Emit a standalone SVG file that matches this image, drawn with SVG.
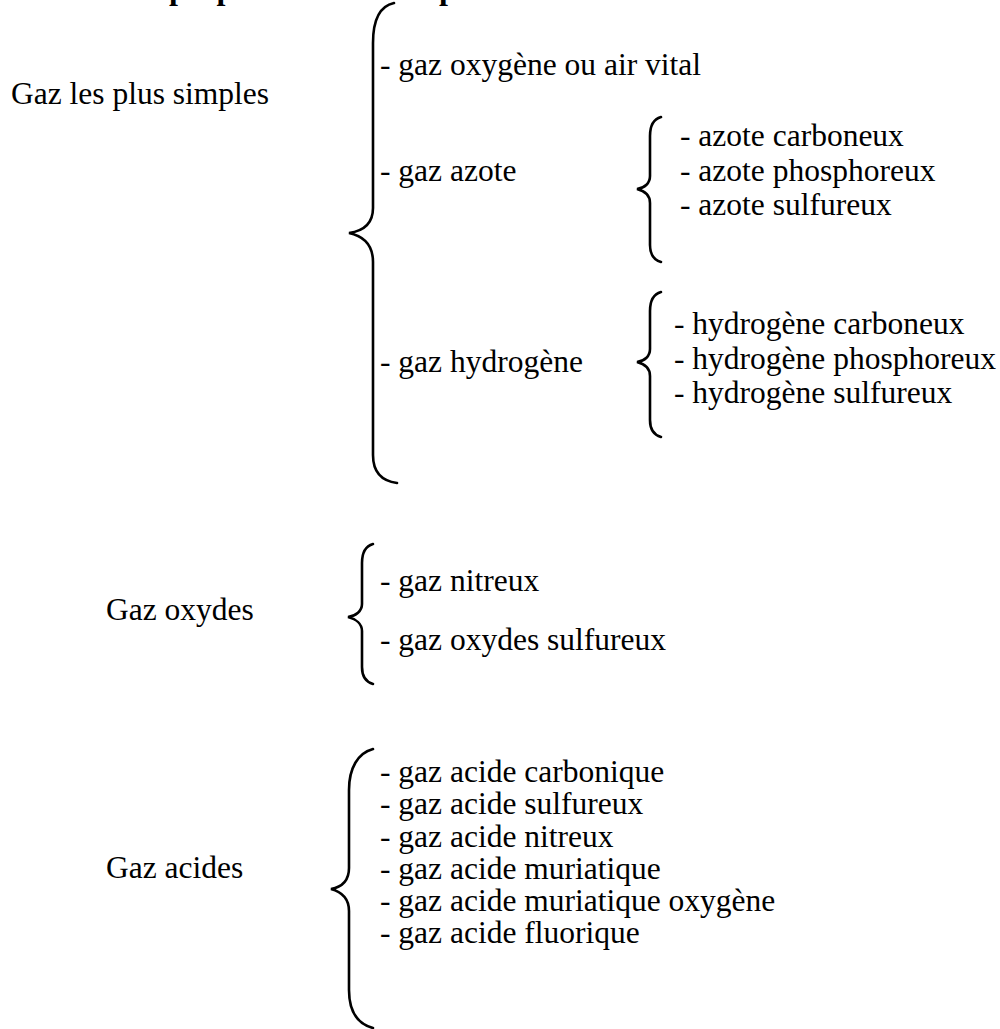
<svg xmlns="http://www.w3.org/2000/svg" width="1000" height="1029" viewBox="0 0 1000 1029">
<style>
text{font-family:"Liberation Serif","Times New Roman",serif;font-size:31.5px;fill:#000}
.t{font-weight:bold;font-size:32px}
.b{fill:none;stroke:#000;stroke-width:2.6;stroke-linecap:round}
</style>
<rect width="1000" height="1029" fill="#fff"/>
<text class="t" x="106" y="-1">Gaz proprement dits ou permanents :</text>
<g id="connectors">
<path class="b" d="M394,3 C380,6 373,20 373,43 L373,208 C373,224 363,231 349,233 C363,236 373,245 373,262 L373,455 C373,472 382,481 397,483"/>
<path class="b" d="M661,117 C654,119 650,126 650,136 L650,176 C650,183 645,188 637,189 C645,191 650,196 650,203 L650,245 C650,255 654,260 661,262"/>
<path class="b" d="M661,292 C654,294 650,301 650,311 L650,349 C650,356 645,361 637,362 C645,364 650,369 650,376 L650,420 C650,430 654,435 661,437"/>
<path class="b" d="M373,544 C366,546 362,553 362,563 L362,604 C362,611 356,616 348,617 C356,619 362,624 362,631 L362,667 C362,677 366,682 373,684"/>
<path class="b" d="M373,749 C358,753 349,768 349,790 L349,868 C349,880 342,887 331,889 C342,892 349,899 349,911 L349,990 C349,1012 358,1024 373,1028"/>
</g>
<g id="n-simples"><text x="11" y="104">Gaz les plus simples</text></g>
<g id="n-oxygene"><text x="380" y="75">- gaz oxygène ou air vital</text></g>
<g id="n-azote"><text x="380" y="181">- gaz azote</text></g>
<g id="n-azote-sub">
<text x="680" y="146">- azote carboneux</text>
<text x="680" y="181">- azote phosphoreux</text>
<text x="680" y="215">- azote sulfureux</text>
</g>
<g id="n-hydrogene"><text x="380" y="372">- gaz hydrogène</text></g>
<g id="n-hydrogene-sub">
<text x="674" y="334">- hydrogène carboneux</text>
<text x="674" y="369">- hydrogène phosphoreux</text>
<text x="674" y="403">- hydrogène sulfureux</text>
</g>
<g id="n-oxydes"><text x="106" y="620">Gaz oxydes</text></g>
<g id="n-oxydes-sub">
<text x="380" y="591">- gaz nitreux</text>
<text x="380" y="650">- gaz oxydes sulfureux</text>
</g>
<g id="n-acides"><text x="106" y="878">Gaz acides</text></g>
<g id="n-acides-sub">
<text x="380" y="782">- gaz acide carbonique</text>
<text x="380" y="814">- gaz acide sulfureux</text>
<text x="380" y="847">- gaz acide nitreux</text>
<text x="380" y="879">- gaz acide muriatique</text>
<text x="380" y="911">- gaz acide muriatique oxygène</text>
<text x="380" y="943">- gaz acide fluorique</text>
</g>
</svg>
